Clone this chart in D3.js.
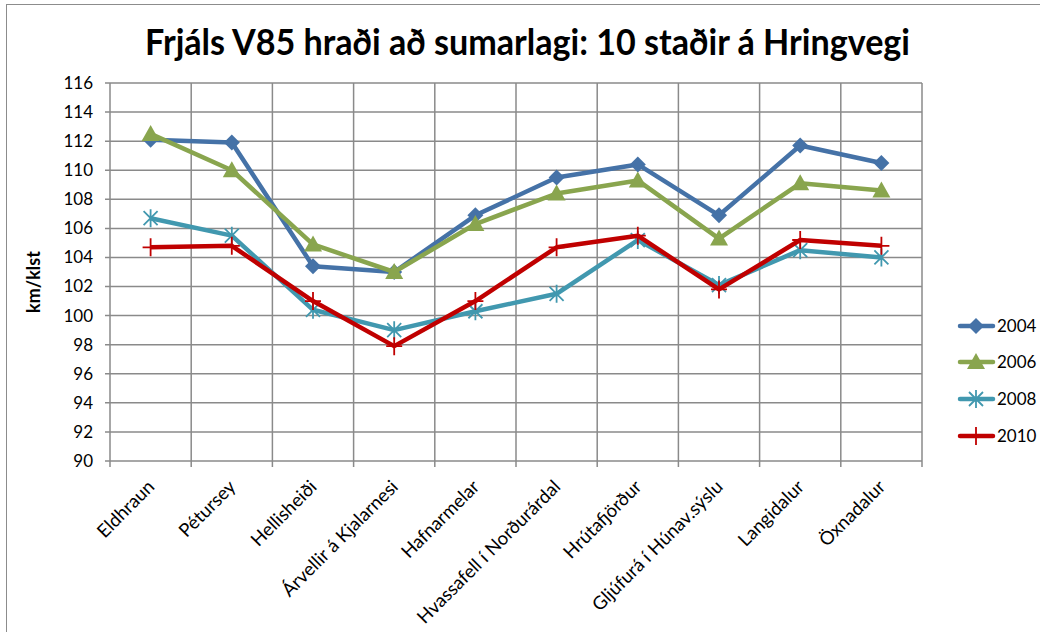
<!DOCTYPE html>
<html>
<head>
<meta charset="utf-8">
<script src="https://cdn.jsdelivr.net/npm/d3@7"></script>
<style>
  body { margin: 0; background: #fff; }
  text { font-family: Lato, "Open Sans", sans-serif; fill: #000; }
</style>
</head>
<body>
<div id="chart-area"></div>
<script>
// data
const places = ["Eldhraun", "Pétursey", "Hellisheiði", "Árvellir á Kjalarnesi", "Hafnarmelar",
  "Hvassafell í Norðurárdal", "Hrútafjörður", "Gljúfurá í Húnav.sýslu", "Langidalur", "Öxnadalur"]
const years = ["2004", "2006", "2008", "2010"]
const v2004 = [112.1, 111.9, 103.4, 103.0, 106.9, 109.5, 110.4, 106.9, 111.7, 110.5]
const v2006 = [112.5, 110.0, 104.9, 103.0, 106.3, 108.4, 109.3, 105.3, 109.1, 108.6]
const v2008 = [106.7, 105.5, 100.4, 99.0, 100.3, 101.5, 105.2, 102.1, 104.5, 104.0]
const v2010 = [104.7, 104.8, 101.0, 97.9, 101.0, 104.7, 105.5, 101.8, 105.2, 104.8]
const yTicks = d3.range(90, 117, 2)

const series = [
  { name: years[0], values: v2004, color: "#4572A7", marker: "diamond" },
  { name: years[1], values: v2006, color: "#89A54E", marker: "triangle" },
  { name: years[2], values: v2008, color: "#4198AF", marker: "star" },
  { name: years[3], values: v2010, color: "#C00000", marker: "plus" }
]

const W = 1040, H = 632
const MARGIN = { LEFT: 110, TOP: 83, RIGHT: 1040 - 922, BOTTOM: 632 - 461 }
const WIDTH = W - MARGIN.LEFT - MARGIN.RIGHT
const HEIGHT = H - MARGIN.TOP - MARGIN.BOTTOM

const svg = d3.select("#chart-area").append("svg")
  .attr("width", W)
  .attr("height", H)

// chart frame
svg.append("rect")
  .attr("x", 6.5).attr("y", 4.5)
  .attr("width", 1060).attr("height", 660)
  .attr("fill", "none")
  .attr("stroke", "#8c8c8c")
  .attr("stroke-width", 1)

// title
svg.append("text")
  .attr("x", 145).attr("y", 55)
  .attr("textLength", 765)
  .attr("lengthAdjust", "spacingAndGlyphs")
  .style("font-size", "37px")
  .style("font-weight", "bold")
  .text("Frjáls V85 hraði að sumarlagi: 10 staðir á Hringvegi")

const g = svg.append("g")
  .attr("transform", `translate(${MARGIN.LEFT}, ${MARGIN.TOP})`)

// scales
const x = d3.scaleBand().domain(places).range([0, WIDTH])
const y = d3.scaleLinear().domain([90, 116]).range([HEIGHT, 0])
const cx = d => x(d) + x.bandwidth() / 2

// gridlines
g.append("g").selectAll("line.h")
  .data(yTicks)
  .join("line")
  .attr("x1", -5).attr("x2", WIDTH)
  .attr("y1", d => y(d)).attr("y2", d => y(d))
  .attr("stroke", "#8a8a8a").attr("stroke-width", 1.5)

const bounds = places.map(p => x(p)).concat([WIDTH])
g.append("g").selectAll("line.v")
  .data(bounds)
  .join("line")
  .attr("x1", d => d).attr("x2", d => d)
  .attr("y1", 0).attr("y2", HEIGHT + 6)
  .attr("stroke", "#8a8a8a").attr("stroke-width", 1.5)

// y tick labels
g.append("g").selectAll("text")
  .data(yTicks)
  .join("text")
  .attr("x", -17)
  .attr("y", d => y(d))
  .attr("dy", "0.35em")
  .attr("text-anchor", "end")
  .style("font-size", "17px")
  .text(d => d)

// y label
svg.append("text")
  .attr("transform", `translate(40, 282) rotate(-90)`)
  .attr("text-anchor", "middle")
  .style("font-size", "18px")
  .style("font-weight", "bold")
  .text("km/klst")

// x labels
g.append("g").selectAll("text")
  .data(places)
  .join("text")
  .attr("transform", d => `translate(${cx(d) + 5}, ${HEIGHT + 27}) rotate(-45)`)
  .attr("text-anchor", "end")
  .style("font-size", "18.5px")
  .text(d => d)

// marker drawing
function drawMarker(sel, type, color) {
  if (type === "diamond") {
    sel.append("path").attr("d", "M0,-8L8,0L0,8L-8,0Z").attr("fill", color)
  } else if (type === "triangle") {
    sel.append("path").attr("d", "M0,-9L9,7L-9,7Z").attr("fill", color)
  } else if (type === "star") {
    sel.append("path").attr("d", "M-7,-7L7,7M-7,7L7,-7M0,-9L0,9")
      .attr("stroke", color).attr("stroke-width", 1.8).attr("fill", "none")
  } else {
    sel.append("path").attr("d", "M-8,0L8,0M0,-9L0,9")
      .attr("stroke", color).attr("stroke-width", 1.8).attr("fill", "none")
  }
}

const line = d3.line()
  .x((d, i) => cx(places[i]))
  .y(d => y(d))

series.forEach(s => {
  g.append("path")
    .attr("d", line(s.values))
    .attr("fill", "none")
    .attr("stroke", s.color)
    .attr("stroke-width", 4.5)
    .attr("stroke-linejoin", "round")
  s.values.forEach((v, i) => {
    const m = g.append("g").attr("transform", `translate(${cx(places[i])}, ${y(v)})`)
    drawMarker(m, s.marker, s.color)
  })
})

// legend
const legend = svg.append("g")
const legY = [326, 362, 399, 436]
series.forEach((s, i) => {
  const lg = legend.append("g").attr("transform", `translate(960, ${legY[i]})`)
  lg.append("line")
    .attr("x1", 0).attr("x2", 33)
    .attr("stroke", s.color).attr("stroke-width", 4.5)
    .attr("stroke-linecap", "round")
  const m = lg.append("g").attr("transform", "translate(16, 0)")
  drawMarker(m, s.marker, s.color)
  lg.append("text")
    .attr("x", 37).attr("dy", "0.35em")
    .style("font-size", "17px")
    .text(s.name)
})
</script>
</body>
</html>
